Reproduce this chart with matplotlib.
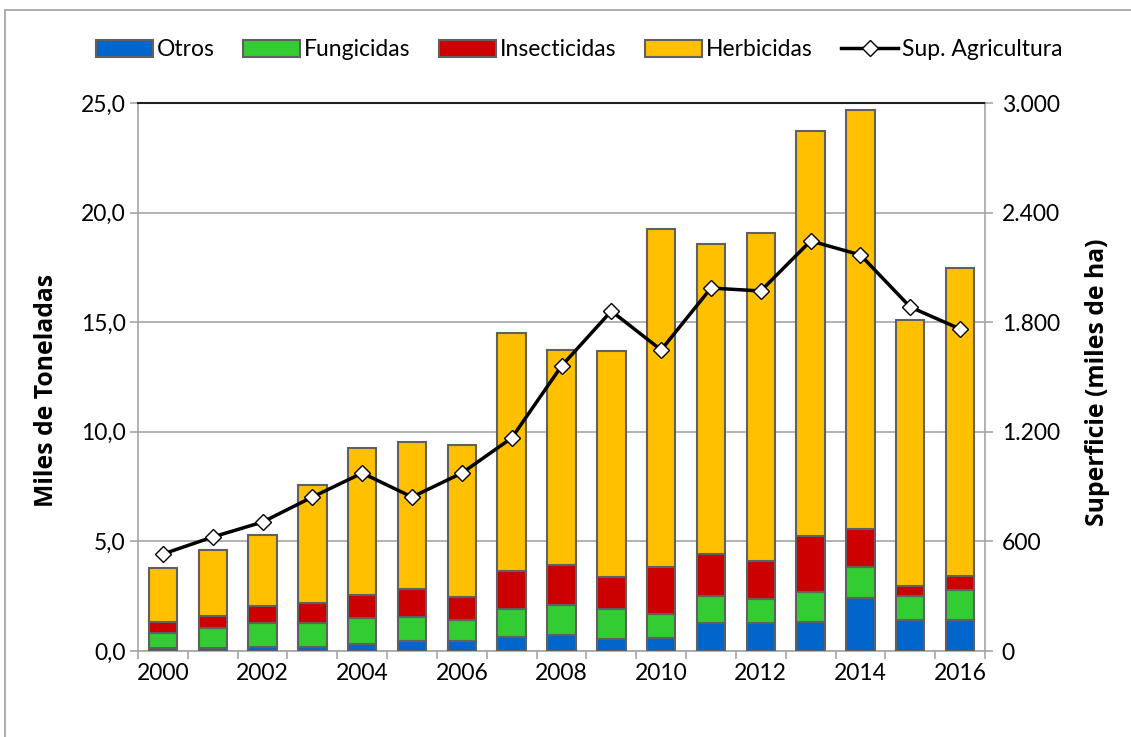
import matplotlib
matplotlib.use("Agg")
import matplotlib.pyplot as plt
from matplotlib.patches import Rectangle
from matplotlib.lines import Line2D
from matplotlib.ticker import FixedLocator, FuncFormatter
import numpy as np

years = list(range(2000, 2017))
otros = [0.12, 0.15, 0.2, 0.18, 0.3, 0.47, 0.44, 0.65, 0.73, 0.53, 0.58, 1.29, 1.29, 1.32, 2.43, 1.41, 1.43]
fung_top = [0.8, 1.04, 1.26, 1.29, 1.49, 1.56, 1.41, 1.92, 2.1, 1.92, 1.67, 2.52, 2.36, 2.7, 3.85, 2.52, 2.78]
insect_top = [1.32, 1.6, 2.05, 2.2, 2.55, 2.81, 2.45, 3.64, 3.92, 3.39, 3.85, 4.43, 4.1, 5.25, 5.57, 2.98, 3.42]
total = [3.79, 4.6, 5.3, 7.57, 9.26, 9.53, 9.4, 14.5, 13.73, 13.7, 19.25, 18.57, 19.07, 23.72, 24.68, 15.1, 17.45]
superficie = [531, 624, 706, 843, 974, 843, 974, 1166, 1560, 1861, 1648, 1987, 1971, 2245, 2168, 1883, 1763]

fung = [f - o for f, o in zip(fung_top, otros)]
insect = [i - f for i, f in zip(insect_top, fung_top)]
herb = [t - i for t, i in zip(total, insect_top)]

plt.rcParams['font.family'] = ['Lato', 'DejaVu Sans']

fig = plt.figure(figsize=(11.31, 7.37), dpi=100)
fig.patches.append(Rectangle((5/1131, -0.1), 1.2, (737-10)/737 + 0.1, transform=fig.transFigure,
                             fill=False, edgecolor='#a0a0a0', linewidth=1.2))
ax = fig.add_axes([138/1131, 86/737, 847/1131, 548/737])
x = np.arange(len(years))
w = 0.57
ec = '#606060'
lw = 1.5
ax.bar(x, otros, w, color='#0066CC', edgecolor=ec, linewidth=lw, label='Otros', zorder=3)
ax.bar(x, fung, w, bottom=otros, color='#33CC33', edgecolor=ec, linewidth=lw, label='Fungicidas', zorder=3)
ax.bar(x, insect, w, bottom=fung_top, color='#CC0000', edgecolor=ec, linewidth=lw, label='Insecticidas', zorder=3)
ax.bar(x, herb, w, bottom=insect_top, color='#FFC000', edgecolor=ec, linewidth=lw, label='Herbicidas', zorder=3)

ax.set_xlim(-0.5, len(years) - 0.5)
ax.set_ylim(0, 25)
ax.set_yticks(np.arange(0, 25.1, 5))
ax.yaxis.set_major_formatter(FuncFormatter(lambda v, p: f"{v:.1f}".replace('.', ',')))
ax.grid(axis='y', color='#a6a6a6', linewidth=1.2, zorder=0)
ax.set_axisbelow(True)
ax.xaxis.set_major_locator(FixedLocator(np.arange(-0.5, len(years), 1)))
ax.xaxis.set_major_formatter(FuncFormatter(lambda v, p: ''))
ax.xaxis.set_minor_locator(FixedLocator(x[::2]))
ax.xaxis.set_minor_formatter(FuncFormatter(lambda v, p: str(years[int(round(v))])))
ax.tick_params(axis='x', which='major', length=6, color='#a6a6a6', width=1.2)
ax.tick_params(axis='x', which='minor', length=0, labelsize=16.5, pad=9)
ax.tick_params(axis='y', length=6, color='#a6a6a6', width=1.2, labelsize=16.5, pad=3)
for s in ['left', 'bottom', 'right']:
    ax.spines[s].set_color('#a6a6a6')
    ax.spines[s].set_linewidth(1.2)
ax.spines['top'].set_color('#202020')
ax.spines['top'].set_linewidth(1.5)

ax2 = ax.twinx()
ax2.set_ylim(0, 3000)
ax2.set_yticks(np.arange(0, 3001, 600))
ax2.yaxis.set_major_formatter(FuncFormatter(lambda v, p: f"{int(v):,}".replace(',', '.')))
ax2.tick_params(axis='y', length=6, color='#a6a6a6', width=1.2, labelsize=16.5, pad=6)
for s in ax2.spines.values():
    s.set_visible(False)
ax2.plot(x, superficie, color='black', linewidth=2.5, marker='D', markersize=8,
         markerfacecolor='white', markeredgecolor='black', markeredgewidth=1.0,
         label='Sup. Agricultura', zorder=5)

lab_font = dict(fontsize=17.8, fontweight='bold', family=['Open Sans', 'DejaVu Sans'],
                rotation=90, ha='center', va='center')
fig.text(47/1131, 1 - 390/737, 'Miles de Toneladas', **lab_font)
fig.text(1098/1131, 1 - 382/737, 'Superficie (miles de ha)', **lab_font)

handles, labels = ax.get_legend_handles_labels()
line_h = Line2D([], [], color='black', linewidth=2.5, marker='D', markersize=8,
                markerfacecolor='white', markeredgecolor='black')
handles.append(line_h)
labels.append('Sup. Agricultura')
fig.legend(handles, labels, loc='center', bbox_to_anchor=(0.512, 1 - 50/737), ncol=5,
           frameon=False, fontsize=16.5, handlelength=2.5, handletextpad=0.15, columnspacing=1.25,
           handleheight=0.8)

fig.savefig('out.png', dpi=100)
